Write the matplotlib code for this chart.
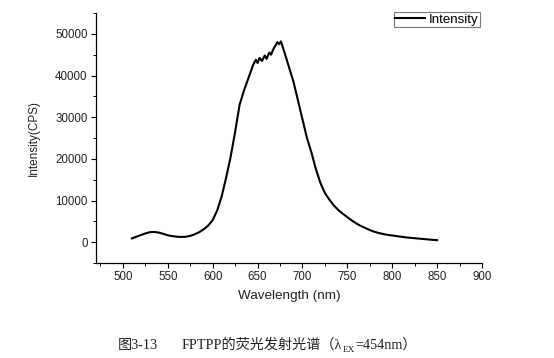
import matplotlib
matplotlib.use("Agg")
import matplotlib.pyplot as plt
from matplotlib.ticker import MultipleLocator

wavelength = [510, 515, 520, 525, 530, 535, 540, 545, 550, 555, 560, 565, 570, 575,
              580, 585, 590, 595, 600, 605, 610, 615, 620, 625, 630, 635, 640, 645,
              648, 650, 652, 655, 658, 660, 663, 665, 668, 670, 672, 674, 676, 680,
              685, 690, 695, 700, 705, 710, 715, 720, 725, 730, 735, 740, 745, 750,
              755, 760, 765, 770, 775, 780, 785, 790, 795, 800, 805, 810, 815, 820,
              825, 830, 835, 840, 845, 850]
intensity = [900, 1300, 1700, 2100, 2400, 2450, 2300, 2000, 1650, 1450, 1300, 1250, 1300, 1500,
             1900, 2400, 3100, 4000, 5300, 7600, 11000, 15500, 20500, 26500, 33000, 36500, 39500, 42500,
             43800, 43000, 44200, 43500, 44800, 44000, 45500, 45000, 46500, 47200, 48000, 47500, 48200, 45500,
             42000, 38500, 34000, 29500, 25000, 21500, 17500, 14200, 11800, 10200, 8800, 7700, 6800, 6000,
             5200, 4500, 3900, 3400, 2900, 2500, 2200, 1950, 1750, 1600, 1450, 1300, 1150, 1050,
             950, 850, 750, 650, 550, 480]
x_ticks = [500, 550, 600, 650, 700, 750, 800, 850, 900]
y_ticks = [0, 10000, 20000, 30000, 40000, 50000]

W, H = 554, 358
fig = plt.figure(figsize=(W / 100, H / 100), dpi=100)
ax = fig.add_axes([96 / W, 1 - 263 / H, (482 - 96) / W, (263 - 13) / H])

sans = ["Liberation Sans", "DejaVu Sans"]
ax.plot(wavelength, intensity, color="black", lw=1.5, label="Intensity")
ax.set_xlim(470, 900)
ax.set_ylim(-5000, 55000)
ax.set_xticks(x_ticks)
ax.set_yticks(y_ticks)
ax.xaxis.set_minor_locator(MultipleLocator(25))
ax.yaxis.set_minor_locator(MultipleLocator(5000))
for s in ["top", "right"]:
    ax.spines[s].set_visible(False)
for s in ["left", "bottom"]:
    ax.spines[s].set_linewidth(0.9)
ax.tick_params(which="major", direction="out", length=3.5, width=0.8, labelsize=8.3, pad=2.5,
               labelcolor="#222222")
ax.tick_params(which="minor", direction="out", length=2, width=0.7)
for lab in ax.get_xticklabels() + ax.get_yticklabels():
    lab.set_fontfamily(sans)
ax.set_xlabel("Wavelength (nm)", fontsize=9.7, family=sans, labelpad=5, color="#222222")
ax.set_ylabel("Intensity(CPS)", fontsize=8.5, family=sans, labelpad=11, color="#222222")

leg = ax.legend(loc="upper right", bbox_to_anchor=(480 / W, 1 - 12 / H),
                bbox_transform=fig.transFigure, prop={"family": sans, "size": 9.5},
                fancybox=False, frameon=True, borderpad=0.12, handlelength=2.3,
                handletextpad=0.25, borderaxespad=0)
leg.get_frame().set_edgecolor("#555555")
leg.get_frame().set_linewidth(0.8)

# caption assembled from pieces (subscript EX)
cap_fam = ["Liberation Serif", "Noto Sans CJK SC"]
cap_size = 10.2
base_y = 1 - 349 / H
t1 = fig.text(118 / W, base_y, "图3-13", family=cap_fam, size=cap_size, va="baseline", color="#222222")
t2 = fig.text(182 / W, base_y, "FPTPP的荧光发射光谱（λ", family=cap_fam, size=cap_size,
              va="baseline", color="#222222")
fig.canvas.draw()
bb = t2.get_window_extent()
y_px = base_y * H
t3 = fig.text(bb.x1, y_px - 2.5, "EX", family=cap_fam, size=cap_size * 0.65,
              va="baseline", transform=None, color="#222222")
fig.canvas.draw()
bb3 = t3.get_window_extent()
fig.text(bb3.x1 + 0.5, y_px, "=454nm）", family=cap_fam, size=cap_size,
         va="baseline", transform=None, color="#222222")

fig.savefig("out.png", dpi=100)
